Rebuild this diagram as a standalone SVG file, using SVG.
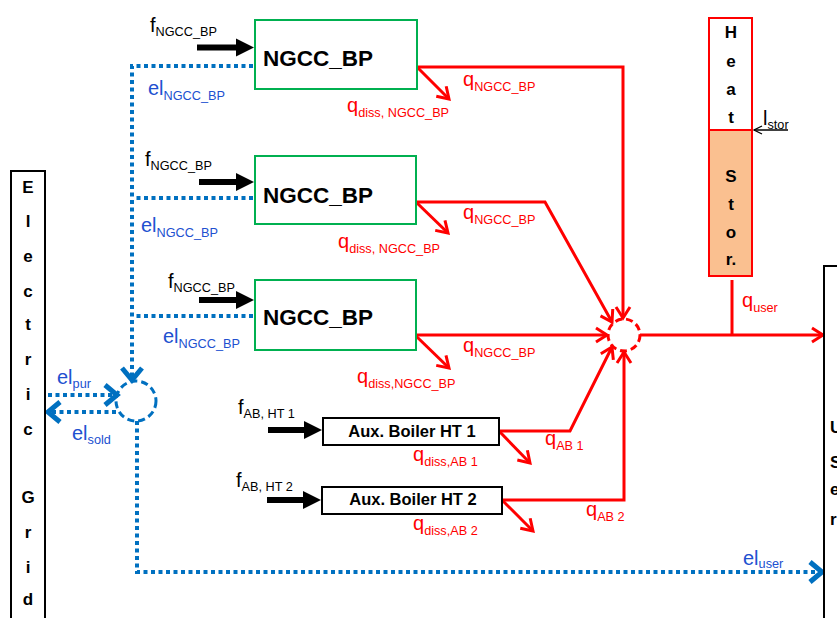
<svg xmlns="http://www.w3.org/2000/svg" width="837" height="618" viewBox="0 0 837 618">
<style>
text{font-family:"Liberation Sans",Arial,sans-serif}
.lbl{font-size:20px}
.sub{font-size:12.7px}
.k{fill:#000}
.r{fill:#FF0000}
.b{fill:#2050D0}
.ttl{font-size:22.5px;font-weight:bold;fill:#000}
.ab{font-size:16.5px;font-weight:bold;fill:#000;text-anchor:middle}
.vl{font-size:17px;font-weight:bold;fill:#000;text-anchor:middle}
.vs{font-size:17px;font-weight:bold;fill:#000}
.ng{fill:#fff;stroke:#00B050;stroke-width:2}
.bx{fill:#fff;stroke:#000;stroke-width:2}
.rl{fill:none;stroke:#FF0000;stroke-width:3;stroke-linejoin:miter}
.bl{fill:none;stroke:#0070C0;stroke-width:4;stroke-dasharray:4 3.5}
.fa{fill:none;stroke:#000;stroke-width:6}
</style>
<defs>
<marker id="rA" markerUnits="userSpaceOnUse" viewBox="-3 -3 18 20" refX="11" refY="7" markerWidth="18" markerHeight="20" orient="auto" overflow="visible">
<path d="M0,0 L11,7 L0,14" fill="none" stroke="#FF0000" stroke-width="3"/>
</marker>
<marker id="bA" markerUnits="userSpaceOnUse" viewBox="-3 -3 20 26" refX="12" refY="10" markerWidth="20" markerHeight="26" orient="auto" overflow="visible">
<path d="M0,0 L12,10 L0,20" fill="none" stroke="#0070C0" stroke-width="5"/>
</marker>
<marker id="kA" markerUnits="userSpaceOnUse" viewBox="0 0 18 18" refX="0" refY="9" markerWidth="18" markerHeight="18" orient="auto" overflow="visible">
<path d="M0,0 L18,9 L0,18 z" fill="#000"/>
</marker>
<marker id="tA" markerUnits="userSpaceOnUse" viewBox="-1 -1 10 10" refX="8" refY="4" markerWidth="10" markerHeight="10" orient="auto" overflow="visible">
<path d="M0,0 L8,4 L0,8" fill="none" stroke="#000" stroke-width="1.3"/>
</marker>
</defs>

<g id="connectors">
<path class="fa" d="M197,47.5 H236" marker-end="url(#kA)"/>
<path class="fa" d="M199,182 H236" marker-end="url(#kA)"/>
<path class="fa" d="M199,300 H236" marker-end="url(#kA)"/>
<path class="fa" d="M268,430 H304" marker-end="url(#kA)"/>
<path class="fa" d="M267,500 H303" marker-end="url(#kA)"/>
<path class="rl" d="M417,67 H623 V318" marker-end="url(#rA)"/>
<path class="rl" d="M416,202 H545 L612,322" marker-end="url(#rA)"/>
<path class="rl" d="M416,335 H607" marker-end="url(#rA)"/>
<path class="rl" d="M499,431 H570 L612,347" marker-end="url(#rA)"/>
<path class="rl" d="M502,500 H624 V352" marker-end="url(#rA)"/>
<path class="rl" d="M640,335 H823" marker-end="url(#rA)"/>
<path class="rl" d="M732,280 V335"/>
<path class="rl" d="M417,67 L449,99" marker-end="url(#rA)"/>
<path class="rl" d="M416,202 L448,233" marker-end="url(#rA)"/>
<path class="rl" d="M416,336 L449,368" marker-end="url(#rA)"/>
<path class="rl" d="M499,431 L530,463" marker-end="url(#rA)"/>
<path class="rl" d="M502,500 L533,531" marker-end="url(#rA)"/>
<path d="M788,130 H754" fill="none" stroke="#000" stroke-width="1.3" marker-end="url(#tA)"/>
<path class="bl" d="M253,66 H132 V380" marker-end="url(#bA)"/>
<path class="bl" d="M253,198 H133"/>
<path class="bl" d="M253,316 H133"/>
<path class="bl" d="M48,395 H117" marker-end="url(#bA)"/>
<path class="bl" d="M116,412 H48" marker-end="url(#bA)"/>
<path class="bl" d="M137,421 V572 H822" marker-end="url(#bA)"/>
</g>

<g id="heat-mixer">
<circle cx="624" cy="335" r="16" fill="none" stroke="#FF0000" stroke-width="3" stroke-dasharray="7 4"/>
</g>
<g id="el-mixer">
<circle cx="136" cy="401" r="20" fill="none" stroke="#0070C0" stroke-width="3" stroke-dasharray="7 4"/>
</g>

<g id="ngcc1">
<rect class="ng" x="255" y="20" width="162" height="69"/>
<text class="ttl" x="263" y="66">NGCC_BP</text>
</g>
<g id="ngcc2">
<rect class="ng" x="255" y="156" width="161" height="68"/>
<text class="ttl" x="263" y="203">NGCC_BP</text>
</g>
<g id="ngcc3">
<rect class="ng" x="255" y="280" width="161" height="70"/>
<text class="ttl" x="263" y="325">NGCC_BP</text>
</g>
<g id="ab1">
<rect class="bx" x="323" y="418" width="176" height="27"/>
<text class="ab" x="412" y="437">Aux. Boiler HT 1</text>
</g>
<g id="ab2">
<rect class="bx" x="322" y="487" width="180" height="27"/>
<text class="ab" x="413" y="505">Aux. Boiler HT 2</text>
</g>

<g id="heat-storage">
<rect x="709" y="18" width="43" height="112" fill="#fff" stroke="#FF0000" stroke-width="2"/>
<rect x="709" y="130" width="43" height="146" fill="#FAC090" stroke="#FF0000" stroke-width="2"/>
<text class="vl" x="731" y="38">H</text>
<text class="vl" x="731" y="67">e</text>
<text class="vl" x="731" y="95">a</text>
<text class="vl" x="731" y="123">t</text>
<text class="vl" x="731" y="182">S</text>
<text class="vl" x="731" y="210">t</text>
<text class="vl" x="731" y="238">o</text>
<text class="vl" x="731" y="265">r.</text>
</g>

<g id="electric-grid">
<rect x="11" y="171" width="34" height="460" fill="#fff" stroke="#000" stroke-width="2"/>
<text class="vl" x="28" y="193" font-size="18">E</text>
<text class="vl" x="28" y="227">l</text>
<text class="vl" x="28" y="262">e</text>
<text class="vl" x="28" y="297">c</text>
<text class="vl" x="28" y="330">t</text>
<text class="vl" x="28" y="365">r</text>
<text class="vl" x="28" y="400">i</text>
<text class="vl" x="28" y="435">c</text>
<text class="vl" x="28" y="503">G</text>
<text class="vl" x="28" y="538">r</text>
<text class="vl" x="28" y="573">i</text>
<text class="vl" x="28" y="605">d</text>
</g>

<g id="user">
<rect x="824" y="266" width="40" height="370" fill="#fff" stroke="#000" stroke-width="2"/>
<text class="vs" x="830" y="433">U</text>
<text class="vs" x="830" y="468">S</text>
<text class="vs" x="830" y="495">e</text>
<text class="vs" x="830" y="525">r</text>
</g>

<g id="labels">
<text class="lbl k" x="150" y="32">f<tspan class="sub" dy="4">NGCC_BP</tspan></text>
<text class="lbl k" x="145" y="166">f<tspan class="sub" dy="4">NGCC_BP</tspan></text>
<text class="lbl k" x="168" y="288">f<tspan class="sub" dy="4">NGCC_BP</tspan></text>
<text class="lbl k" x="238" y="414">f<tspan class="sub" dy="4">AB, HT 1</tspan></text>
<text class="lbl k" x="236" y="487">f<tspan class="sub" dy="4">AB, HT 2</tspan></text>

<text class="lbl b" x="148" y="95">el<tspan class="sub" dy="5">NGCC_BP</tspan></text>
<text class="lbl b" x="141" y="232">el<tspan class="sub" dy="5">NGCC_BP</tspan></text>
<text class="lbl b" x="163" y="343">el<tspan class="sub" dy="5">NGCC_BP</tspan></text>
<text class="lbl b" x="57" y="384">el<tspan class="sub" dy="4">pur</tspan></text>
<text class="lbl b" x="72" y="440">el<tspan class="sub" dy="4">sold</tspan></text>
<text class="lbl b" x="743" y="565">el<tspan class="sub" dy="3">user</tspan></text>

<text class="lbl r" x="347" y="112">q<tspan class="sub" dy="5">diss, NGCC_BP</tspan></text>
<text class="lbl r" x="338" y="248">q<tspan class="sub" dy="5">diss, NGCC_BP</tspan></text>
<text class="lbl r" x="357" y="383">q<tspan class="sub" dy="5">diss,NGCC_BP</tspan></text>
<text class="lbl r" x="463" y="86">q<tspan class="sub" dy="5">NGCC_BP</tspan></text>
<text class="lbl r" x="463" y="219">q<tspan class="sub" dy="5">NGCC_BP</tspan></text>
<text class="lbl r" x="463" y="352">q<tspan class="sub" dy="5">NGCC_BP</tspan></text>
<text class="lbl r" x="413" y="461">q<tspan class="sub" dy="5">diss,AB 1</tspan></text>
<text class="lbl r" x="413" y="530">q<tspan class="sub" dy="5">diss,AB 2</tspan></text>
<text class="lbl r" x="545" y="445">q<tspan class="sub" dy="5">AB 1</tspan></text>
<text class="lbl r" x="586" y="516">q<tspan class="sub" dy="5">AB 2</tspan></text>
<text class="lbl r" x="742" y="307">q<tspan class="sub" dy="5">user</tspan></text>
<text class="lbl k" x="763" y="125">l<tspan class="sub" dy="4">stor</tspan></text>
</g>
</svg>
